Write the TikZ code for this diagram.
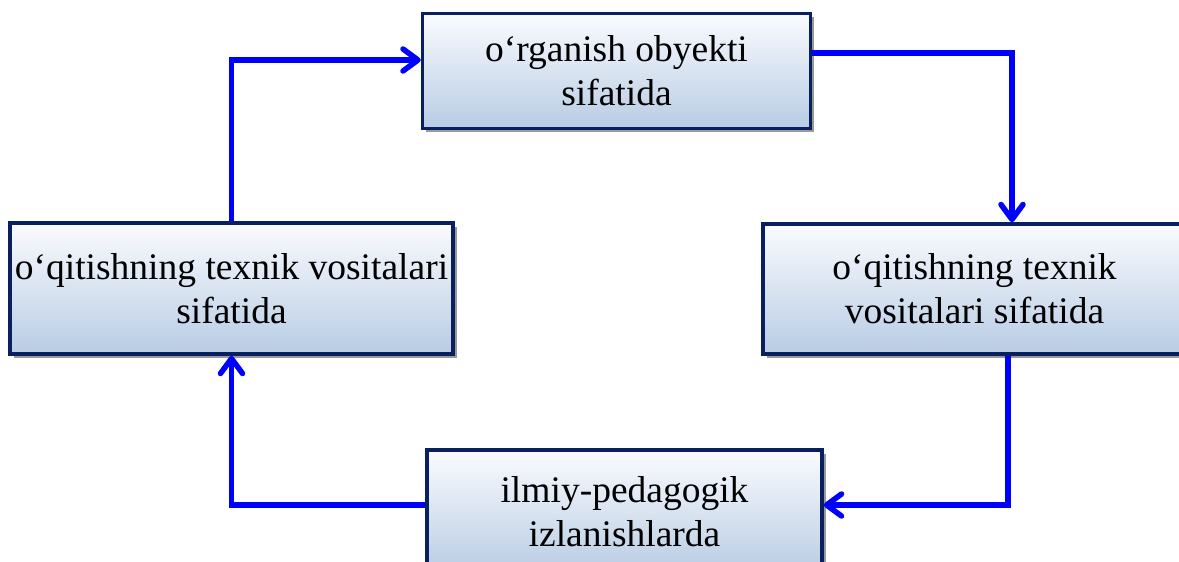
\documentclass[tikz,border=0pt]{standalone}
\usepackage{fontspec}
\setmainfont{Liberation Serif}
\usetikzlibrary{arrows.meta,shadows,calc}
\definecolor{navy}{RGB}{8,32,96}
\definecolor{topfill}{RGB}{250,251,254}
\definecolor{botfill}{RGB}{184,204,228}
\definecolor{arrblue}{RGB}{0,0,255}
\tikzset{
  box/.style={rectangle, draw=navy, line width=3.5pt, top color=topfill, bottom color=botfill,
    drop shadow={shadow xshift=3.5pt, shadow yshift=-3.5pt, fill=black!40, opacity=1},
    align=center, inner sep=0pt, font=\fontsize{37.5}{44}\selectfont},
  arr/.style={draw=arrblue, line width=5.5pt, line join=miter,
    -{Straight Barb[length=15pt,width=22pt,round]}}
}
\begin{document}
\begin{tikzpicture}[x=1pt,y=-1pt]
\useasboundingbox (0,0) rectangle (1179,562);
\clip (0,0) rectangle (1179,562);
\node[box, minimum width=388pt, minimum height=115pt] (top) at (616.5,71) {o‘rganish obyekti\\sifatida};
\node[box, minimum width=443pt, minimum height=131pt] (lft) at (231.5,288.5) {o‘qitishning texnik vositalari\\sifatida};
\node[box, minimum width=423pt, minimum height=130pt] (rgt) at (974.5,289) {o‘qitishning texnik\\vositalari sifatida};
\node[box, minimum width=395pt, minimum height=124pt] (bot) at (624.5,512) {ilmiy-pedagogik\\izlanishlarda};
\draw[arr] (lft.north) |- ([yshift=11pt]top.west);
\draw[arr] ([yshift=18pt]top.east) -| ([xshift=37.5pt]rgt.north);
\draw[arr] ([xshift=33.5pt]rgt.south) |- ([yshift=7pt]bot.east);
\draw[arr] ([yshift=7pt]bot.west) -| (lft.south);
\end{tikzpicture}
\end{document}
